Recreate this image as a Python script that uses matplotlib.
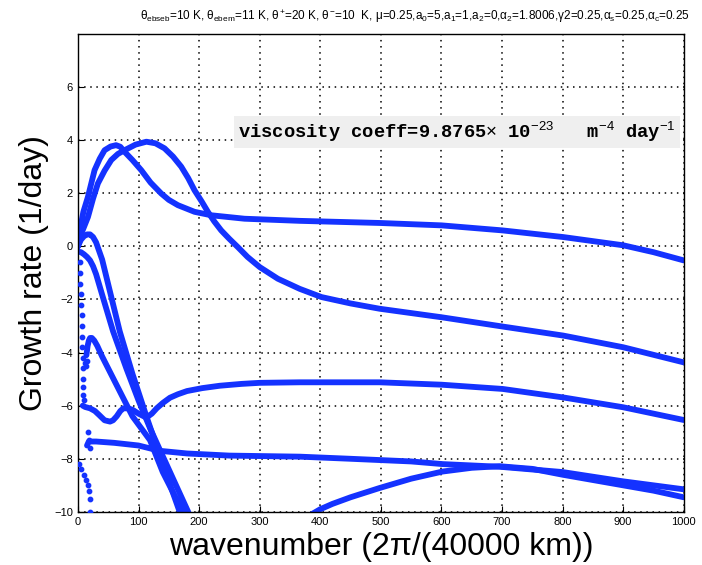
import numpy as np
import matplotlib
matplotlib.use("Agg")
import matplotlib.pyplot as plt

# growth-rate branches (wavenumber, 1/day)
a_x = [0, 4, 9, 16.5, 27.5, 36, 44, 54, 63, 70, 77, 90, 104.5, 120, 137.5, 150, 165, 192.5, 220, 275, 366, 498, 600, 701, 801, 900, 950, 1000]
a_y = [0, 0.7, 1.3, 1.86, 2.87, 3.3, 3.62, 3.76, 3.81, 3.75, 3.56, 3.25, 2.87, 2.4, 1.99, 1.75, 1.55, 1.3, 1.17, 1.04, 0.96, 0.88, 0.79, 0.6, 0.35, 0.04, -0.22, -0.53]

b_x = [0, 6, 16.5, 25, 33, 44, 55, 66, 77, 95, 113, 128, 143, 157, 170.5, 182, 192.5, 204, 214.5, 225, 236.5, 250, 264, 280, 300, 330, 366, 402, 450, 498, 600, 701, 801, 900, 1000]
b_y = [0, 0.5, 1.1, 1.8, 2.37, 2.85, 3.25, 3.48, 3.62, 3.83, 3.94, 3.88, 3.69, 3.38, 3.0, 2.57, 2.11, 1.7, 1.3, 0.94, 0.6, 0.28, -0.03, -0.4, -0.78, -1.22, -1.6, -1.91, -2.15, -2.35, -2.67, -3.02, -3.36, -3.8, -4.37]

c_x = [0, 5, 10, 15, 20, 25, 30, 40, 55, 69, 90, 113, 140, 168, 175]
c_y = [0, 0.25, 0.38, 0.45, 0.45, 0.35, 0.15, -0.5, -1.9, -3.2, -4.8, -6.4, -8.2, -10, -10.5]

d_x = [0, 5, 10, 15, 20, 25, 30, 41, 58, 80, 100, 120, 140, 160, 182, 190]
d_y = [-0.2, -0.22, -0.3, -0.4, -0.53, -0.75, -1.05, -1.9, -3.2, -4.6, -5.8, -6.9, -7.9, -8.9, -10, -10.5]

e_x = [14, 16, 18, 20, 23, 27, 32, 40, 50, 70, 90, 119, 140, 160, 178, 185]
e_y = [-4.1, -3.75, -3.55, -3.45, -3.45, -3.55, -3.75, -4.15, -4.6, -5.5, -6.4, -7.3, -8.5, -9.4, -10.1, -10.5]

w_x = [8, 12, 20, 28, 35, 44, 53, 58, 64, 70, 75, 82, 90, 100, 113, 122, 130, 140, 152, 165, 180, 205, 234, 270, 300, 366, 498, 600, 701, 801, 900, 1000]
w_y = [-6.0, -6.05, -6.1, -6.2, -6.35, -6.55, -6.6, -6.55, -6.4, -6.2, -6.1, -6.1, -6.15, -6.3, -6.45, -6.3, -6.1, -5.9, -5.7, -5.57, -5.45, -5.34, -5.25, -5.18, -5.14, -5.12, -5.12, -5.21, -5.37, -5.69, -6.06, -6.54]

g_x = [15, 18, 30, 60, 100, 135, 180, 250, 366, 450, 550, 602, 696, 800, 900, 1000]
g_y = [-7.5, -7.35, -7.35, -7.4, -7.5, -7.7, -7.8, -7.88, -7.92, -8.0, -8.1, -8.2, -8.3, -8.5, -8.85, -9.15]

h_x = [385, 400, 420, 450, 498, 550, 602, 650, 696, 750, 800, 850, 900, 950, 1000]
h_y = [-10.1, -9.9, -9.7, -9.45, -9.1, -8.75, -8.48, -8.34, -8.28, -8.38, -8.6, -8.8, -9.0, -9.2, -9.45]

# loose points near the origin
dot_x = [3, 4, 4, 5, 5, 6, 6, 7, 7, 8, 8, 8, 9, 9, 10, 11, 13, 15, 17, 18, 20, 1, 5, 10, 14, 16, 18, 20, 20]
dot_y = [-0.6, -1.0, -1.4, -1.8, -2.2, -2.6, -3.0, -3.4, -3.8, -4.2, -4.6, -5.0, -5.3, -5.6, -5.8, -4.4, -4.5, -4.3, -7.0, -7.3, -7.6, -8.2, -8.4, -8.6, -8.8, -9.0, -9.2, -9.5, -10.0]

xticks = list(range(0, 1001, 100))
yticks = [-10, -8, -6, -4, -2, 0, 2, 4, 6]

title = (r"$\theta_{\rm ebseb}$=10 K, $\theta_{\rm ebem}$=11 K, $\theta^{+}$=20 K, "
         r"$\theta^{-}$=10  K, $\mu$=0.25,a$_0$=5,a$_1$=1,a$_2$=0,$\alpha_2$=1.8006,"
         r"$\gamma$2=0.25,$\alpha_{\rm s}$=0.25,$\alpha_{\rm c}$=0.25")

plt.rcParams['font.family'] = ['Liberation Sans', 'DejaVu Sans']
plt.rcParams['mathtext.fontset'] = 'custom'
plt.rcParams['mathtext.rm'] = 'Liberation Sans'
plt.rcParams['mathtext.it'] = 'Liberation Sans'

fig = plt.figure(figsize=(7.02, 5.65), dpi=100)
ax = fig.add_axes([0.111, 0.094, 0.863, 0.846])

col = '#1432ff'
for xs, ys in [(a_x, a_y), (b_x, b_y), (c_x, c_y), (d_x, d_y), (e_x, e_y),
               (w_x, w_y), (g_x, g_y), (h_x, h_y)]:
    ax.plot(xs, ys, color=col, lw=4.2, solid_capstyle='round', solid_joinstyle='round')
ax.scatter(dot_x, dot_y, s=10, color=col, zorder=3)

ax.set_xlim(0, 1000)
ax.set_ylim(-10, 8)
ax.set_xticks(xticks)
ax.set_yticks(yticks)
ax.tick_params(direction='in', labelsize=8, length=4)
ax.grid(True, color='black', linestyle=(0, (1, 3)), linewidth=1.1)
for s in ax.spines.values():
    s.set_linewidth(1.0)

ax.set_xlabel('wavenumber (2\u03c0/(40000 km))', fontsize=23, labelpad=4)
ax.set_ylabel('Growth rate (1/day)', fontsize=23, labelpad=4)
fig.text(0.591, 0.97, title, fontsize=8.5, ha='center', va='center')

ax.text(0.265, 0.795, r'viscosity coeff=9.8765$\times$ 10$^{-23}$   m$^{-4}$ day$^{-1}$',
        transform=ax.transAxes, fontsize=13.5, family='Liberation Mono', weight='bold',
        va='center', ha='left',
        bbox=dict(facecolor='#efefef', edgecolor='none', pad=3))

fig.savefig('out.png', dpi=100)
